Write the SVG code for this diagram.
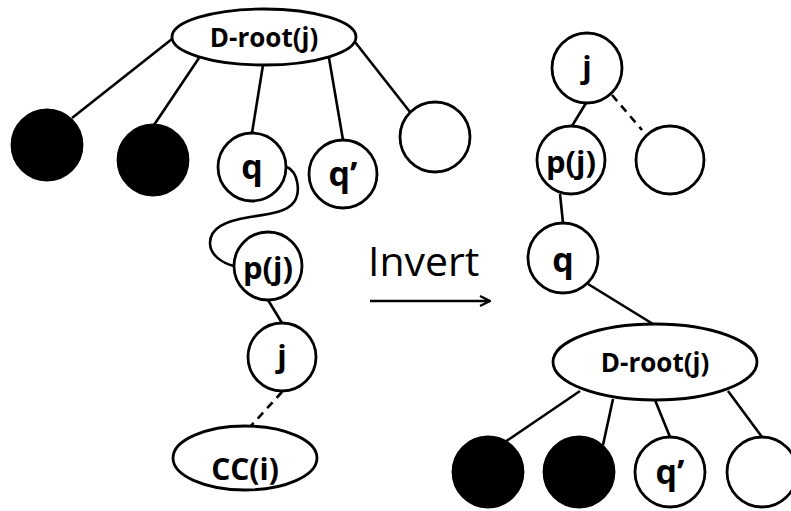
<svg xmlns="http://www.w3.org/2000/svg" width="791" height="511" viewBox="0 0 791 511">
<style>
.n{fill:#fff;stroke:#000;stroke-width:2.8}
.b{fill:#000;stroke:#000;stroke-width:2.8}
.e{stroke:#000;stroke-width:2.6;fill:none}
.d{stroke:#000;stroke-width:2.6;fill:none;stroke-dasharray:8,6}
.t{font-family:"Open Sans","Liberation Sans",sans-serif;font-weight:bold;text-anchor:middle;fill:#000}
</style>
<defs>
<marker id="ah" viewBox="0 0 12 12" refX="11" refY="6" markerWidth="12" markerHeight="12" markerUnits="userSpaceOnUse" orient="auto">
<path d="M1,1 L11,6 L1,11" fill="none" stroke="#000" stroke-width="2.2"/>
</marker>
</defs>
<rect width="791" height="511" fill="#fff"/>
<g id="connectors">
<line class="e" x1="172" y1="39" x2="72" y2="118"/>
<line class="e" x1="199" y1="58" x2="154" y2="125"/>
<line class="e" x1="263" y1="65" x2="252" y2="133"/>
<line class="e" x1="329" y1="58" x2="343" y2="140"/>
<line class="e" x1="355" y1="42" x2="410" y2="112"/>
<path class="e" d="M287,167 C298,172 301,192 294,202 C287,212 270,214 250,217 C225,221 210,228 210,243 C210,255 222,263 234,266"/>
<line class="e" x1="268" y1="300" x2="282" y2="323"/>
<line class="d" x1="282" y1="392" x2="250" y2="427"/>
<line class="e" x1="370" y1="301" x2="490" y2="301" stroke-width="2.2" marker-end="url(#ah)"/>
<line class="e" x1="586" y1="103" x2="572" y2="126"/>
<line class="d" x1="612" y1="95" x2="642" y2="130"/>
<line class="e" x1="560" y1="194" x2="563" y2="223"/>
<line class="e" x1="588" y1="284" x2="653" y2="324"/>
<line class="e" x1="580" y1="391" x2="505" y2="442"/>
<line class="e" x1="613" y1="399" x2="603" y2="445"/>
<line class="e" x1="655" y1="400" x2="670" y2="437"/>
<line class="e" x1="728" y1="391" x2="762" y2="437"/>
</g>
<g id="left-droot"><ellipse class="n" cx="264" cy="37" rx="92" ry="28"/><text class="t" x="264" y="47" font-size="26">D-root(j)</text></g>
<g id="left-black1"><circle class="b" cx="47" cy="145" r="35"/></g>
<g id="left-black2"><circle class="b" cx="153" cy="160" r="35"/></g>
<g id="left-q"><circle class="n" cx="252" cy="167" r="34"/><text class="t" x="252" y="179" font-size="34">q</text></g>
<g id="left-qprime"><circle class="n" cx="343" cy="174" r="34"/><text class="t" x="343" y="186" font-size="34">q’</text></g>
<g id="left-empty"><circle class="n" cx="435" cy="137" r="35"/></g>
<g id="left-pj"><circle class="n" cx="268" cy="266" r="34"/><text class="t" x="268" y="279" font-size="31">p(j)</text></g>
<g id="left-j"><circle class="n" cx="282" cy="357" r="34"/><text class="t" x="282" y="367" font-size="31">j</text></g>
<g id="left-cc"><ellipse class="n" cx="245" cy="458" rx="72" ry="32"/><text class="t" x="245" y="480" font-size="30">CC(i)</text></g>
<g id="invert-label"><text x="368" y="276" font-family="'Open Sans','Liberation Sans',sans-serif" font-size="41" fill="#000">Invert</text></g>
<g id="right-j"><circle class="n" cx="587" cy="68" r="35"/><text class="t" x="587" y="78" font-size="31">j</text></g>
<g id="right-pj"><circle class="n" cx="571" cy="160" r="34"/><text class="t" x="571" y="173" font-size="31">p(j)</text></g>
<g id="right-empty1"><circle class="n" cx="670" cy="160" r="34"/></g>
<g id="right-q"><circle class="n" cx="563" cy="258" r="35"/><text class="t" x="563" y="272" font-size="34">q</text></g>
<g id="right-droot"><ellipse class="n" cx="655" cy="362" rx="102" ry="38"/><text class="t" x="655" y="372" font-size="26">D-root(j)</text></g>
<g id="right-black1"><circle class="b" cx="488" cy="472" r="35"/></g>
<g id="right-black2"><circle class="b" cx="579" cy="472" r="35"/></g>
<g id="right-qprime"><circle class="n" cx="670" cy="472" r="35"/><text class="t" x="670" y="484" font-size="34">q’</text></g>
<g id="right-empty2"><circle class="n" cx="762" cy="472" r="35"/></g>
</svg>
